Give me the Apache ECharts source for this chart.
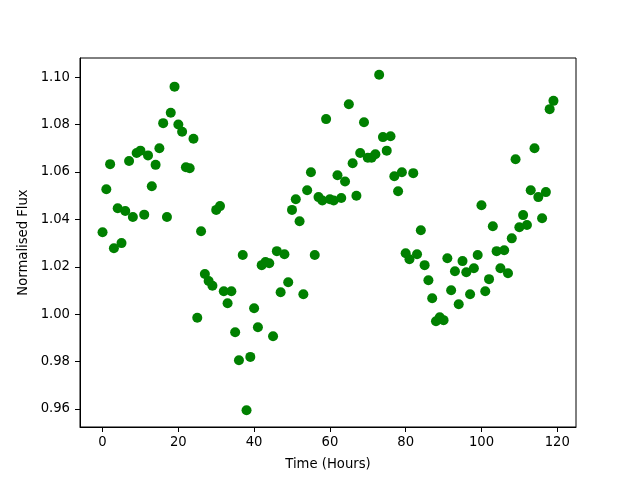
<!DOCTYPE html>
<html><head><meta charset="utf-8">
<script src="https://cdn.jsdelivr.net/npm/echarts@6/dist/echarts.min.js"></script>
<style>html,body{margin:0;padding:0;background:#fff}#c{width:640px;height:480px}</style>
</head><body><div id="c"></div>
<script>
const hours = Array.from({length:120},(_,i)=>i);
const flux = [
1.0346,1.0527,1.0633,1.0278,1.0447,1.0300,1.0435,1.0646,1.0410,1.0680,
1.0690,1.0420,1.0670,1.0540,1.0630,1.0700,1.0806,1.0410,1.0850,1.0960,
1.0800,1.0770,1.0620,1.0616,1.0740,0.9985,1.0350,1.0170,1.0140,1.0120,
1.0440,1.0456,1.0097,1.0046,1.0097,0.9924,0.9806,1.0250,0.9595,0.9820,
1.0025,0.9945,1.0207,1.0220,1.0215,0.9907,1.0266,1.0093,1.0253,1.0135,
1.0440,1.0485,1.0392,1.0084,1.0523,1.0599,1.0250,1.0494,1.0480,1.0823,
1.0485,1.0480,1.0586,1.0490,1.0560,1.0886,1.0637,1.0500,1.0680,1.0810,
1.0660,1.0660,1.0675,1.1010,1.0747,1.0690,1.0751,1.0582,1.0519,1.0599,
1.0257,1.0232,1.0595,1.0253,1.0354,1.0207,1.0143,1.0067,0.9970,0.9987,
0.9975,1.0236,1.0101,1.0181,1.0042,1.0224,1.0177,1.0084,1.0194,1.0250,
1.0460,1.0097,1.0148,1.0371,1.0266,1.0194,1.0270,1.0173,1.0320,1.0654,
1.0367,1.0418,1.0376,1.0523,1.0700,1.0494,1.0405,1.0515,1.0865,1.0900
];
const xTicks = [0,20,40,60,80,100,120];
const yTicks = [0.96,0.98,1.00,1.02,1.04,1.06,1.08,1.10];

function padExtent(arr){
  const lo = Math.min(...arr), hi = Math.max(...arr), m = (hi-lo)*0.05;
  return [lo-m, hi+m];
}
const xe = padExtent(hours), ye = padExtent(flux);
const font = 'DejaVu Sans';
const fs = 13.2;
const chart = echarts.init(document.getElementById('c'), null, {renderer:'canvas'});
chart.setOption({
  animation:false,
  grid:{left:80,right:64,top:58,bottom:53,show:true,borderColor:'#000',borderWidth:1,backgroundColor:'#fff'},
  xAxis:{type:'value',min:xe[0],max:xe[1],
    name:'Time (Hours)',nameLocation:'middle',nameGap:31,
    nameTextStyle:{fontFamily:font,fontSize:fs,color:'#000'},
    axisLine:{show:true,onZero:false,lineStyle:{color:'#000',width:1}},
    axisTick:{show:true,length:5,inside:false,customValues:xTicks,lineStyle:{color:'#000'}},
    axisLabel:{customValues:xTicks,margin:9,fontFamily:font,fontSize:fs,color:'#000',formatter:v=>String(Math.round(v))},
    splitLine:{show:false}},
  yAxis:{type:'value',min:ye[0],max:ye[1],
    name:'Normalised Flux',nameLocation:'middle',nameGap:45,nameRotate:90,
    nameTextStyle:{fontFamily:font,fontSize:fs,color:'#000'},
    axisLine:{show:true,onZero:false,lineStyle:{color:'#000',width:1}},
    axisTick:{show:true,length:5,inside:false,customValues:yTicks,lineStyle:{color:'#000'}},
    axisLabel:{customValues:yTicks,margin:10,fontFamily:font,fontSize:fs,color:'#000',formatter:v=>v.toFixed(2)},
    splitLine:{show:false}},
  series:[{type:'scatter',data:hours.map((h,i)=>[h,flux[i]]),symbol:'circle',symbolSize:10,
    itemStyle:{color:'#008000',opacity:1}}]
});
</script></body></html>
